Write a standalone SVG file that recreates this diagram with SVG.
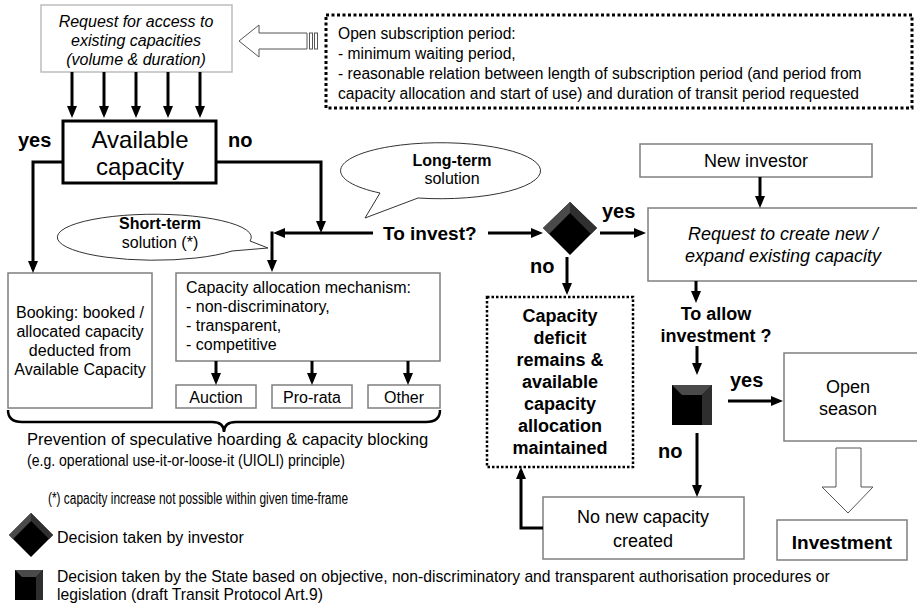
<svg xmlns="http://www.w3.org/2000/svg" width="917" height="604" viewBox="0 0 917 604">
<defs>
<marker id="ah" markerUnits="userSpaceOnUse" markerWidth="12" markerHeight="10" refX="8" refY="5" orient="auto">
<path d="M0,0 L12,5 L0,10 z" fill="#000"/>
</marker>
<style>
text{font-family:"Liberation Sans",Arial,sans-serif;fill:#000}
.t16{font-size:16px}
.t18{font-size:18px}
.b{font-weight:bold}
.i{font-style:italic}
.box{fill:#fff;stroke:#7f7f7f;stroke-width:1.5}
.dot{fill:#fff;stroke:#000;stroke-width:3;stroke-dasharray:3 2.5}
.c{fill:none;stroke:#000;stroke-width:3;marker-end:url(#ah)}
.bub{fill:#fff;stroke:#333;stroke-width:1}
</style>
</defs>
<rect width="917" height="604" fill="#fff"/>

<g id="request">
<rect x="41" y="5" width="191" height="67" fill="#fff" stroke="#bdbdbd" stroke-width="1.5"/>
<text class="t16 i" text-anchor="middle" x="136" y="27">Request for access to</text>
<text class="t16 i" text-anchor="middle" x="136" y="46">existing capacities</text>
<text class="t16 i" text-anchor="middle" x="136" y="65">(volume &amp; duration)</text>
</g>

<g id="hollow-left-arrow">
<path d="M239,41 L259,25 L259,33 L307,33 L307,49 L259,49 L259,57 Z" fill="#fff" stroke="#555" stroke-width="1"/>
<rect x="309.5" y="33" width="3" height="16" fill="#fff" stroke="#555" stroke-width="1"/>
<rect x="314.5" y="33" width="3" height="16" fill="#fff" stroke="#555" stroke-width="1"/>
</g>

<g id="subscription">
<rect x="326" y="15" width="586" height="93" class="dot"/>
<text x="338" y="39" style="font-size:15.6px">Open subscription period:</text>
<text x="338" y="59" style="font-size:15.6px">- minimum waiting period,</text>
<text x="338" y="79" style="font-size:15.6px">- reasonable relation between length of subscription period (and period from</text>
<text x="338" y="99" style="font-size:15.6px">capacity allocation and start of use) and duration of transit period requested</text>
</g>

<g id="available">
<rect x="63" y="121" width="153" height="62" fill="#fff" stroke="#000" stroke-width="3"/>
<text x="140" y="148" text-anchor="middle" style="font-size:24px">Available</text>
<text x="140" y="175" text-anchor="middle" style="font-size:24px">capacity</text>
</g>
<text class="b" x="18" y="147" style="font-size:20px">yes</text>
<text class="b" x="228" y="147" style="font-size:20px">no</text>

<g id="short-term">
<path d="M250,241 L268,248 L232,251 A97,23 0 1 1 250,241 Z" class="bub"/>
<text class="t16 b" x="160" y="229" text-anchor="middle">Short-term</text>
<text class="t16" x="160" y="248" text-anchor="middle">solution (*)</text>
</g>

<g id="long-term">
<path d="M380,193 L365,218 L418,198 A100,28 0 1 0 380,193 Z" class="bub"/>
<text class="t16 b" x="452" y="166" text-anchor="middle">Long-term</text>
<text class="t16" x="452" y="184" text-anchor="middle">solution</text>
</g>

<g id="to-invest">
<text class="b" x="383" y="240" style="font-size:19px">To invest?</text>
</g>

<g id="booking">
<rect x="8" y="273" width="144" height="135" class="box"/>
<text class="t16" x="80" y="318" text-anchor="middle">Booking: booked /</text>
<text class="t16" x="80" y="337" text-anchor="middle">allocated capacity</text>
<text class="t16" x="80" y="356" text-anchor="middle">deducted from</text>
<text class="t16" x="80" y="375" text-anchor="middle">Available Capacity</text>
</g>

<g id="mechanism">
<rect x="176" y="273" width="264" height="88" class="box"/>
<text class="t16" x="186" y="293">Capacity allocation mechanism:</text>
<text class="t16" x="186" y="312">- non-discriminatory,</text>
<text class="t16" x="186" y="331">- transparent,</text>
<text class="t16" x="186" y="350">- competitive</text>
</g>

<g id="auction">
<rect x="176" y="385" width="80" height="23" class="box"/>
<text class="t16" x="216" y="403" text-anchor="middle">Auction</text>
</g>
<g id="pro-rata">
<rect x="272" y="385" width="80" height="23" class="box"/>
<text class="t16" x="312" y="403" text-anchor="middle">Pro-rata</text>
</g>
<g id="other">
<rect x="368" y="385" width="72" height="23" class="box"/>
<text class="t16" x="404" y="403" text-anchor="middle">Other</text>
</g>

<g id="prevention">
<path d="M8,410 Q8,422 22,422 L212,422 Q224,422 224,432 Q224,422 236,422 L426,422 Q440,422 440,410" fill="none" stroke="#000" stroke-width="2.5"/>
<text x="27" y="445" style="font-size:16.6px">Prevention of speculative hoarding &amp; capacity blocking</text>
<text x="27" y="466" style="font-size:17px" textLength="318" lengthAdjust="spacingAndGlyphs">(e.g. operational use-it-or-loose-it (UIOLI) principle)</text>
</g>

<g id="investor-decision">
<polygon points="570,202 597,228 570,255 543,228" fill="#000"/>
<polygon points="543,228 570,202 570,213 549,234" fill="#4a4a4a"/>
<polygon points="570,202 597,228 591,234 570,213" fill="#303030"/>
</g>
<text class="b" x="602" y="218" style="font-size:20px">yes</text>
<text class="b" x="530" y="273" style="font-size:20px">no</text>

<g id="new-investor">
<rect x="640" y="144" width="232" height="33" class="box"/>
<text class="t18" x="756" y="167" text-anchor="middle">New investor</text>
</g>

<g id="request-create">
<rect x="648" y="208" width="275" height="73" class="box"/>
<text class="t18 i" x="783" y="240" text-anchor="middle">Request to create new /</text>
<text class="t18 i" x="783" y="262" text-anchor="middle">expand existing capacity</text>
</g>

<g id="to-allow">
<text class="t18 b" x="716" y="320" text-anchor="middle">To allow</text>
<text class="t18 b" x="716" y="342" text-anchor="middle">investment ?</text>
</g>

<g id="state-decision">
<rect x="672" y="385" width="40" height="40" fill="#000"/>
<polygon points="672,385 712,385 702,395 682,395" fill="#4a4a4a"/>
<polygon points="712,385 712,425 702,425 702,395" fill="#2e2e2e"/>
</g>
<text class="b" x="730" y="387" style="font-size:20px">yes</text>
<text class="b" x="658" y="458" style="font-size:20px">no</text>

<g id="deficit">
<rect x="487" y="297" width="146" height="170" fill="#fff" stroke="#000" stroke-width="2.5" stroke-dasharray="2.5 2"/>
<text class="t18 b" x="560" y="322" text-anchor="middle">Capacity</text>
<text class="t18 b" x="560" y="344" text-anchor="middle">deficit</text>
<text class="t18 b" x="560" y="366" text-anchor="middle">remains &amp;</text>
<text class="t18 b" x="560" y="388" text-anchor="middle">available</text>
<text class="t18 b" x="560" y="410" text-anchor="middle">capacity</text>
<text class="t18 b" x="560" y="432" text-anchor="middle">allocation</text>
<text class="t18 b" x="560" y="454" text-anchor="middle">maintained</text>
</g>

<g id="open-season">
<rect x="784" y="353" width="140" height="88" class="box"/>
<text class="t18" x="848" y="393" text-anchor="middle">Open</text>
<text class="t18" x="848" y="415" text-anchor="middle">season</text>
</g>

<g id="hollow-down-arrow">
<path d="M836,448 L861,448 L861,487 L873,487 L848,513 L822,487 L836,487 Z" fill="#fff" stroke="#555" stroke-width="1"/>
</g>

<g id="no-new-capacity">
<rect x="543" y="497" width="201" height="62" class="box"/>
<text class="t18" x="643" y="523" text-anchor="middle">No new capacity</text>
<text class="t18" x="643" y="547" text-anchor="middle">created</text>
</g>

<g id="investment">
<rect x="777" y="520" width="130" height="40" class="box"/>
<text class="b" x="842" y="549" text-anchor="middle" style="font-size:19px">Investment</text>
</g>

<g id="legend">
<text x="48" y="504" style="font-size:16px" textLength="300" lengthAdjust="spacingAndGlyphs">(*) capacity increase not possible within given time-frame</text>
<polygon points="31,513 53,535 31,557 9,535" fill="#000"/>
<polygon points="9,535 31,513 31,521 13,539" fill="#4a4a4a"/>
<polygon points="31,513 53,535 49,539 31,521" fill="#303030"/>
<text class="t16" x="57" y="543">Decision taken by investor</text>
<rect x="15" y="570" width="28" height="30" fill="#000"/>
<polygon points="15,570 43,570 36,577 22,577" fill="#4a4a4a"/>
<polygon points="43,570 43,600 36,600 36,577" fill="#2e2e2e"/>
<text x="57" y="582" style="font-size:15.7px">Decision taken by the State based on objective, non-discriminatory and transparent authorisation procedures or</text>
<text x="57" y="600" style="font-size:15.7px">legislation (draft Transit Protocol Art.9)</text>
</g>

<g id="connectors">
<line x1="72" y1="72" x2="72" y2="114" class="c"/>
<line x1="104" y1="72" x2="104" y2="114" class="c"/>
<line x1="136" y1="72" x2="136" y2="114" class="c"/>
<line x1="168" y1="72" x2="168" y2="114" class="c"/>
<line x1="200" y1="72" x2="200" y2="114" class="c"/>
<polyline points="63,162 33,162 33,269" class="c"/>
<polyline points="216,162 321,162 321,229" class="c"/>
<line x1="373" y1="233" x2="277" y2="233" class="c"/>
<line x1="272" y1="231.5" x2="272" y2="268" class="c"/>
<line x1="216" y1="361" x2="216" y2="381" class="c"/>
<line x1="312" y1="361" x2="312" y2="381" class="c"/>
<line x1="408" y1="361" x2="408" y2="381" class="c"/>
<line x1="488" y1="233" x2="539" y2="233" class="c"/>
<line x1="600" y1="233" x2="642" y2="233" class="c"/>
<line x1="567" y1="257" x2="567" y2="291" class="c"/>
<line x1="760" y1="177" x2="760" y2="204" class="c"/>
<line x1="696" y1="281" x2="696" y2="299" class="c"/>
<line x1="697" y1="346" x2="697" y2="371" class="c"/>
<line x1="728" y1="401" x2="779" y2="401" class="c"/>
<line x1="697" y1="433" x2="697" y2="493" class="c"/>
<polyline points="543,528 521,528 521,471" class="c"/>
</g>
</svg>
